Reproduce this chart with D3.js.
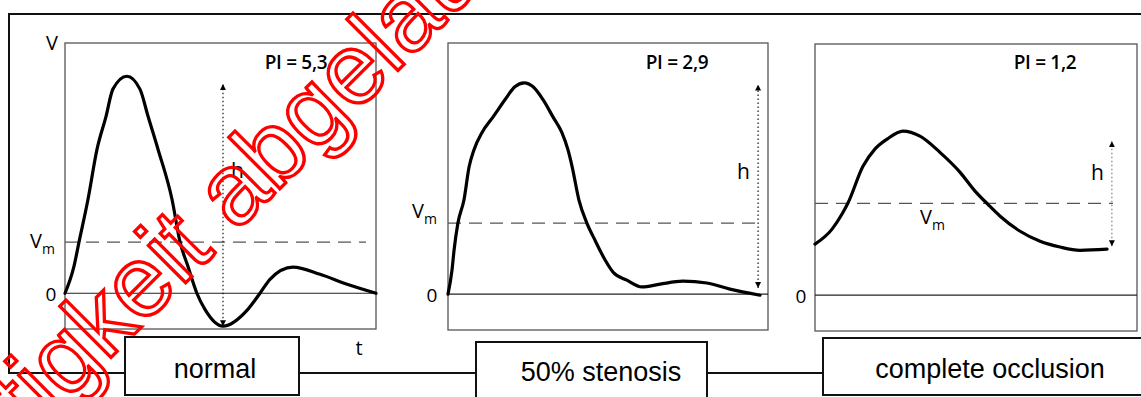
<!DOCTYPE html>
<html>
<head>
<meta charset="utf-8">
<script src="https://cdn.jsdelivr.net/npm/d3@7"></script>
<style>
  html, body { margin: 0; padding: 0; background: #fff; }
  svg { display: block; }
</style>
</head>
<body>
<svg id="chart" width="1141" height="397"></svg>
<script>
// ---------------- DATA ----------------
const categories = ["normal", "50% stenosis", "complete occlusion"];
const piLabels = ["PI = 5,3", "PI = 2,9", "PI = 1,2"];

// time in % of heart cycle, velocity in arbitrary units
const tNormal = [0, 2.9, 4.5, 7.4, 10.3, 13.2, 15.4, 19.9, 24.1, 26.7, 29.9, 34.4, 37.0, 39.5, 42.4, 45.0, 50.8, 58.8, 62.7, 65.9, 73.3, 82.0, 90.7, 100];
const vNormal = [0, 0.76, 1.43, 2.63, 4.03, 4.95, 5.71, 6.07, 5.71, 4.95, 4.03, 2.63, 1.43, 0.76, 0, -0.45, -0.92, -0.45, 0, 0.39, 0.73, 0.53, 0.25, 0];

const tStenosis = [0, 1.25, 1.9, 3.1, 5.0, 6.6, 8.1, 10.6, 14.1, 17.8, 20.9, 23.8, 26.6, 29.7, 32.8, 35.6, 37.5, 38.8, 40.9, 43.4, 45.9, 49.1, 51.6, 55.9, 60.6, 66.3, 73.4, 80.9, 88.1, 97.5];
const vStenosis = [0, 0.67, 1.23, 1.98, 2.63, 3.55, 4.02, 4.50, 4.94, 5.42, 5.78, 5.89, 5.78, 5.42, 4.94, 4.50, 4.02, 3.55, 2.63, 1.98, 1.51, 0.95, 0.61, 0.39, 0.20, 0.28, 0.36, 0.31, 0.14, -0.03];

const tOcclusion = [0, 5.3, 8.4, 10.2, 14.9, 18.6, 22.4, 27.3, 32.6, 38.8, 45.0, 49.7, 53.7, 57.5, 63.7, 69.9, 76.1, 82.3, 90.7];
const vOcclusion = [1.42, 1.84, 2.26, 2.56, 3.59, 4.07, 4.35, 4.57, 4.43, 3.98, 3.43, 2.90, 2.53, 2.20, 1.78, 1.50, 1.34, 1.25, 1.28];

const vmValues = [1.43, 1.98, 2.56];      // mean velocity Vm
const hArrowT = [50.8, 96.9, 92.2];       // position of h arrow (time)
const hArrowTop = [5.85, 5.84, 4.29];
const hArrowBottom = [-0.92, 0.17, 1.36];
const yDomain = [-1, 7];
const tDomain = [0, 100];
const watermarkText = "Gültigkeit abgelaufen";

// ---------------- LAYOUT ----------------
const series = [
  { t: tNormal, v: vNormal },
  { t: tStenosis, v: vStenosis },
  { t: tOcclusion, v: vOcclusion }
];
const boxes = [
  { x0: 65, x1: 376, y0: 43, y1: 329 },
  { x0: 448, x1: 768, y0: 43, y1: 330 },
  { x0: 815, x1: 1137, y0: 44, y1: 331 }
];
const labelBoxes = [
  { x: 125, y: 337, w: 174, h: 58, tx: 215, ty: 378 },
  { x: 476, y: 342, w: 231, h: 60, tx: 601, ty: 381 },
  { x: 823, y: 338, w: 330, h: 57, tx: 990, ty: 378 }
];
const vmLineEnd = [366, 760, 1113];
const vmLabelPos = [
  { x: 30, y: 248 },
  { x: 412, y: 218 },
  { x: 920, y: 224 }
];
const zeroLabelX = [51, 432, 801];
const piPos = [{ x: 296, y: 69 }, { x: 677, y: 69 }, { x: 1045, y: 69 }];
const hLabelPos = [{ dx: 8, y: 178 }, { dx: -21, y: 179 }, { dx: -21, y: 180 }];
const arrowColor = ["#000", "#000", "#777"];

const svg = d3.select("#chart");
const uiFont = "'Open Sans', 'DejaVu Sans', sans-serif";

const defs = svg.append("defs");
defs.append("marker")
  .attr("id", "arrow")
  .attr("viewBox", "0 0 10 10")
  .attr("refX", 10).attr("refY", 5)
  .attr("markerWidth", 6).attr("markerHeight", 7)
  .attr("markerUnits", "userSpaceOnUse")
  .attr("orient", "auto-start-reverse")
  .append("path").attr("d", "M0,0 L10,5 L0,10 Z").attr("fill", "#000");

// outer frame and connectors
svg.append("path")
  .attr("d", "M1141,14 H9 V373 H125 M299,373 H476 M707,373 H823")
  .attr("fill", "none").attr("stroke", "#111").attr("stroke-width", 2);

// V label
svg.append("text").attr("x", 52).attr("y", 50).attr("text-anchor", "middle")
  .attr("font-family", uiFont).attr("font-size", 20).text("V");
// t label
svg.append("text").attr("x", 359).attr("y", 355).attr("text-anchor", "middle")
  .attr("font-family", uiFont).attr("font-size", 20).text("t");

series.forEach((s, i) => {
  const b = boxes[i];
  const x = d3.scaleLinear().domain(tDomain).range([b.x0, b.x1]);
  const y = d3.scaleLinear().domain(yDomain).range([b.y1, b.y0]);
  const g = svg.append("g");

  g.append("rect")
    .attr("x", b.x0).attr("y", b.y0)
    .attr("width", b.x1 - b.x0).attr("height", b.y1 - b.y0)
    .attr("fill", "none").attr("stroke", "#555").attr("stroke-width", 1.3);

  // zero line
  g.append("line")
    .attr("x1", b.x0).attr("x2", b.x1)
    .attr("y1", y(0)).attr("y2", y(0))
    .attr("stroke", "#222").attr("stroke-width", 1.2);

  // Vm dashed
  g.append("line")
    .attr("x1", b.x0).attr("x2", vmLineEnd[i])
    .attr("y1", y(vmValues[i])).attr("y2", y(vmValues[i]))
    .attr("stroke", "#555").attr("stroke-width", 1.3)
    .attr("stroke-dasharray", "13,8");

  // curve
  const pts = s.t.map((t, k) => [t, s.v[k]]);
  g.append("path")
    .datum(pts)
    .attr("d", d3.line().x(d => x(d[0])).y(d => y(d[1])).curve(d3.curveMonotoneX))
    .attr("fill", "none").attr("stroke", "#000").attr("stroke-width", 3.2)
    .attr("stroke-linejoin", "round").attr("stroke-linecap", "round");

  // h arrow
  const ax = x(hArrowT[i]);
  g.append("line")
    .attr("x1", ax).attr("x2", ax)
    .attr("y1", y(hArrowBottom[i])).attr("y2", y(hArrowTop[i]))
    .attr("stroke", arrowColor[i]).attr("stroke-width", 1.1)
    .attr("stroke-dasharray", "1.5,2.5")
    .attr("marker-start", "url(#arrow)").attr("marker-end", "url(#arrow)");
  g.append("text")
    .attr("x", ax + hLabelPos[i].dx).attr("y", hLabelPos[i].y)
    .attr("font-family", uiFont).attr("font-size", 21).text("h");

  // PI label
  g.append("text")
    .attr("x", piPos[i].x).attr("y", piPos[i].y).attr("text-anchor", "middle")
    .attr("font-family", uiFont).attr("font-weight", 600).attr("font-size", 19)
    .attr("letter-spacing", -0.3)
    .text(piLabels[i]);

  // 0 label
  g.append("text")
    .attr("x", zeroLabelX[i]).attr("y", y(0) + 8).attr("text-anchor", "middle")
    .attr("font-family", uiFont).attr("font-size", 19).text("0");

  // Vm label
  const vm = g.append("text")
    .attr("x", vmLabelPos[i].x).attr("y", vmLabelPos[i].y)
    .attr("font-family", uiFont).attr("font-size", 20);
  vm.append("tspan").text("V");
  vm.append("tspan").attr("font-size", 14).attr("dy", 6).text("m");

  // category box
  const lb = labelBoxes[i];
  svg.append("rect")
    .attr("x", lb.x).attr("y", lb.y).attr("width", lb.w).attr("height", lb.h)
    .attr("fill", "#fff").attr("stroke", "#111").attr("stroke-width", 2);
  svg.append("text")
    .attr("x", lb.tx).attr("y", lb.ty).attr("text-anchor", "middle")
    .attr("font-family", "'Liberation Sans', Arial, sans-serif").attr("font-size", 27)
    .text(categories[i]);
});

// watermark
svg.append("text")
  .attr("transform", "translate(-78.5,547) rotate(-45)")
  .attr("font-family", "'Liberation Sans', Arial, sans-serif")
  .attr("font-size", 100)
  .attr("fill", "none").attr("stroke", "#f00").attr("stroke-width", 3.3)
  .text(watermarkText);
</script>
</body>
</html>
